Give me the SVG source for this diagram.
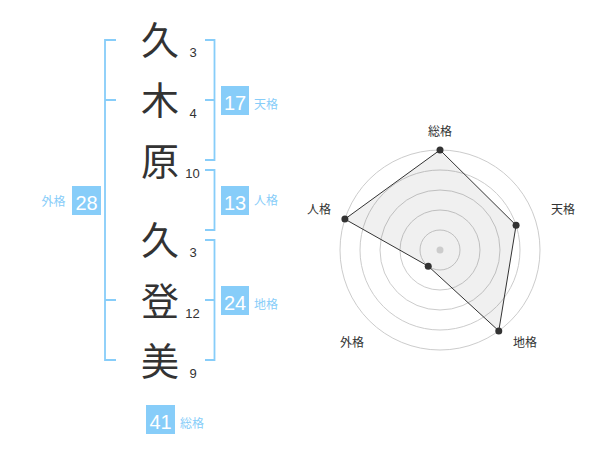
<svg xmlns="http://www.w3.org/2000/svg" width="600" height="470" viewBox="0 0 600 470">
<style>
.ch{font-family:"Noto Sans CJK JP","Noto Sans CJK SC",sans-serif;font-size:38px;fill:#333;text-anchor:middle}
.num{font-family:"Liberation Sans",Arial,sans-serif;font-size:13px;fill:#333;text-anchor:middle}
.box{fill:#87cdf9}
.bn{font-family:"Liberation Sans",Arial,sans-serif;font-size:20px;fill:#fff;text-anchor:middle}
.lb{font-family:"Noto Sans CJK JP","Noto Sans CJK SC",sans-serif;font-size:12px;fill:#87cdf9}
.br{fill:none;stroke:#87cdf9;stroke-width:1.8}
.ring{fill:none;stroke:#cccccc;stroke-width:1}
.rl{font-family:"Noto Sans CJK JP","Noto Sans CJK SC",sans-serif;font-size:12px;fill:#333;text-anchor:middle}
.pt{fill:#333}
</style>
<rect width="600" height="470" fill="#fff"/>
<g id="connectors">
<path class="br" d="M116,40 H105 V360 H116 M105,100 H116 M105,300 H116"/>
<path class="br" d="M205,40 H214.5 V160 H205 M205,100 H214.5"/>
<path class="br" d="M205,170 H214.5 V230 H205"/>
<path class="br" d="M205,240 H214.5 V360 H205 M205,300 H214.5"/>
</g>
<g id="chars">
<text class="ch" x="160" y="54">久</text>
<text class="ch" x="160" y="114">木</text>
<text class="ch" x="160" y="175">原</text>
<text class="ch" x="160" y="254">久</text>
<text class="ch" x="160" y="315">登</text>
<text class="ch" x="160" y="375">美</text>
</g>
<g id="strokes">
<text class="num" x="193" y="57">3</text>
<text class="num" x="193" y="118">4</text>
<text class="num" x="192.5" y="178">10</text>
<text class="num" x="193" y="257">3</text>
<text class="num" x="192.5" y="318">12</text>
<text class="num" x="193" y="378">9</text>
</g>
<g id="tenkaku">
<rect class="box" x="221" y="86" width="28" height="29"/>
<text class="bn" x="235" y="109.5">17</text>
<text class="lb" x="254" y="108.5">天格</text>
</g>
<g id="jinkaku">
<rect class="box" x="221" y="186" width="28" height="29"/>
<text class="bn" x="235" y="209.5">13</text>
<text class="lb" x="254" y="205">人格</text>
</g>
<g id="chikaku">
<rect class="box" x="221" y="286" width="28" height="29"/>
<text class="bn" x="235" y="309.5">24</text>
<text class="lb" x="254" y="308.5">地格</text>
</g>
<g id="gaikaku">
<rect class="box" x="72" y="186" width="29" height="29"/>
<text class="bn" x="86.5" y="209.5">28</text>
<text class="lb" x="41.5" y="206.3">外格</text>
</g>
<g id="soukaku">
<rect class="box" x="146" y="405" width="29" height="29"/>
<text class="bn" x="160.5" y="428.5">41</text>
<text class="lb" x="180" y="428">総格</text>
</g>
<g id="radar">
<circle class="ring" cx="440" cy="250" r="20"/>
<circle class="ring" cx="440" cy="250" r="40"/>
<circle class="ring" cx="440" cy="250" r="60"/>
<circle class="ring" cx="440" cy="250" r="80"/>
<circle class="ring" cx="440" cy="250" r="100"/>
<polygon points="440,150 516.08,225.28 498.78,330.9 428.24,266.18 344.89,219.1" fill="#000" fill-opacity="0.06" stroke="#333" stroke-width="1"/>
<circle cx="440" cy="250" r="3.5" fill="#cccccc"/>
<circle class="pt" cx="440" cy="150" r="3.5"/>
<circle class="pt" cx="516.08" cy="225.28" r="3.5"/>
<circle class="pt" cx="498.78" cy="330.9" r="3.5"/>
<circle class="pt" cx="428.24" cy="266.18" r="3.5"/>
<circle class="pt" cx="344.89" cy="219.1" r="3.5"/>
<text class="rl" x="440" y="135.5">総格</text>
<text class="rl" x="563" y="213.5">天格</text>
<text class="rl" x="319" y="213.5">人格</text>
<text class="rl" x="352" y="347">外格</text>
<text class="rl" x="525" y="347">地格</text>
</g>
</svg>
